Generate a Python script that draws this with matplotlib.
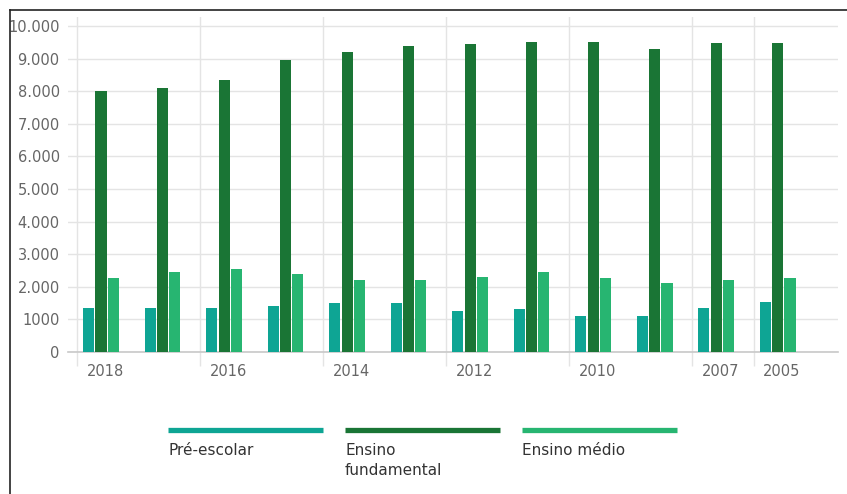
import numpy as np
from matplotlib import pyplot as plt
from matplotlib.lines import Line2D
from matplotlib.ticker import FuncFormatter

# data (matrículas por nível de ensino)
anos = ['2018', '2017', '2016', '2015', '2014', '2013', '2012', '2011', '2010', '2009', '2007', '2005']
rotulos = ['2018', '', '2016', '', '2014', '', '2012', '', '2010', '', '2007', '2005']
pre_escolar = [1350, 1350, 1350, 1410, 1490, 1490, 1260, 1310, 1110, 1110, 1350, 1540]
fundamental = [8010, 8100, 8350, 8950, 9200, 9380, 9440, 9520, 9520, 9290, 9490, 9490]
medio = [2260, 2460, 2550, 2390, 2210, 2210, 2300, 2450, 2260, 2120, 2210, 2260]

series = ['Pré-escolar', 'Ensino\nfundamental', 'Ensino médio']
cores = ['#0ea594', '#1a7535', '#27b571']

W, H = 847, 494
fig = plt.figure(figsize=(W / 100, H / 100), dpi=100)
fig.patch.set_facecolor('white')

def fx(px):
    return px / W

def fy(py):
    return 1 - py / H

ax = fig.add_axes([fx(68), fy(352), fx(838) - fx(68), fy(17) - fy(352)])

x = np.arange(len(anos))
largura = 0.18
for k, (vals, cor) in enumerate(zip([pre_escolar, fundamental, medio], cores)):
    ax.bar(x + (k - 1) * 0.2, vals, largura, color=cor, zorder=3)

ax.set_xlim(-0.537, 11.98)
ax.set_ylim(0, 10276)

# y axis
ax.set_yticks(np.arange(0, 10001, 1000))
def fmt(v, pos):
    v = int(v)
    if v < 10000 and v > 1000 or v == 10000:
        return '{:,}'.format(v).replace(',', '.')
    return str(v)
ax.yaxis.set_major_formatter(FuncFormatter(fmt))
ax.tick_params(axis='y', length=0, pad=6, labelsize=10.5, labelcolor='#666666')
ax.grid(axis='y', color='#e4e4e4', lw=1, zorder=0)

# x axis: labels slightly right of group centre, grid lines between groups
ax.set_xticks(x + 0.07)
ax.set_xticklabels(rotulos)
ax.tick_params(axis='x', which='major', length=0, pad=9, labelsize=10.5, labelcolor='#666666')
lab_idx = [i for i, r in enumerate(rotulos) if r]
ax.set_xticks([i - 0.39 for i in lab_idx], minor=True)
ax.tick_params(axis='x', which='minor', length=10, width=1, color='#e4e4e4', direction='out')
for i in lab_idx:
    ax.axvline(i - 0.39, color='#e4e4e4', lw=1, zorder=0)

for s in ['top', 'right', 'left']:
    ax.spines[s].set_visible(False)
ax.spines['bottom'].set_color('#c8c8c8')
ax.spines['bottom'].set_linewidth(1.2)

# legend drawn by hand below the chart
leg_x = [168, 345, 522]
for nome, cor, lx in zip(series, cores, leg_x):
    fig.add_artist(Line2D([fx(lx), fx(lx + 155)], [fy(430), fy(430)], color=cor, lw=3.8,
                          solid_capstyle='butt'))
    fig.text(fx(lx), fy(443), nome, ha='left', va='top', fontsize=11, color='#333333',
             linespacing=1.45)

# frame lines top and left
fig.add_artist(Line2D([fx(10), 1], [fy(10), fy(10)], color='#222222', lw=1.2))
fig.add_artist(Line2D([fx(10), fx(10)], [fy(10), 0], color='#222222', lw=1.2))

plt.savefig('out.png', dpi=100)
